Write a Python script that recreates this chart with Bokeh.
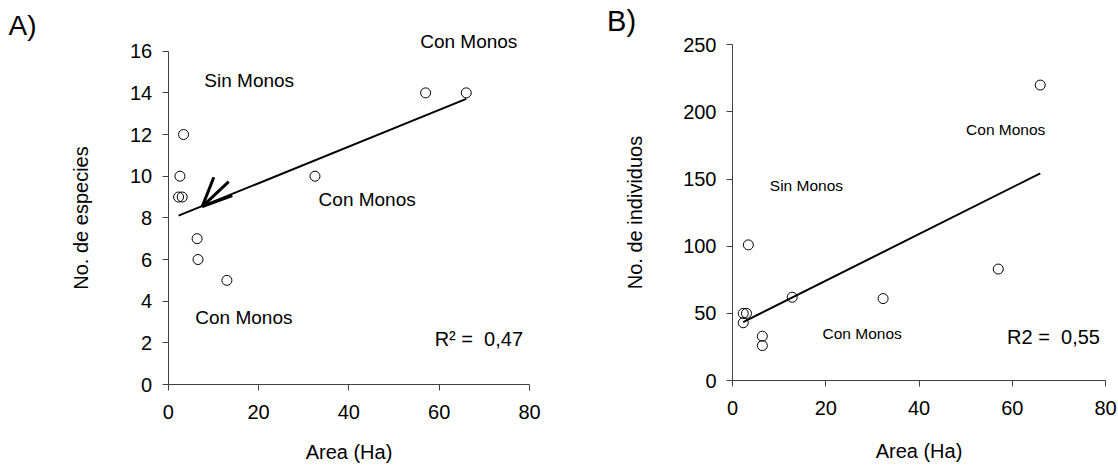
import numpy as np
from bokeh.plotting import figure
from bokeh.layouts import row
from bokeh.models import Range1d, FixedTicker, Label, Arrow
from bokeh.embed import file_html
from bokeh.resources import INLINE

# ---- data ----
area_a = [57.0, 66.0, 3.4, 2.6, 2.3, 3.1, 6.4, 6.6, 13.0, 32.5]
especies = [14, 14, 12, 10, 9, 9, 7, 6, 5, 10]

area_b = [66.0, 57.0, 32.3, 12.8, 3.4, 2.3, 3.0, 2.3, 6.4, 6.4]
individuos = [220, 83, 61, 62, 101, 50, 50, 43, 33, 26]

x_ticks = [0, 20, 40, 60, 80]
y_ticks_a = [0, 2, 4, 6, 8, 10, 12, 14, 16]
y_ticks_b = [0, 50, 100, 150, 200, 250]

FONT = "Liberation Sans"
AXC = "#404040"
H = 472


def make_fig(width, ox, px80, oy, pytop, ymax):
    """ox/oy: pixel position of the data origin inside the canvas (from left/top);
    px80: pixel of x=80; pytop: pixel of y=ymax."""
    ux = (px80 - ox) / 80.0
    uy = (oy - pytop) / float(ymax)
    xr = Range1d(-ox / ux, (width - ox) / ux)
    yr = Range1d(-(H - oy) / uy, oy / uy)
    p = figure(width=width, height=H, x_range=xr, y_range=yr,
               output_backend="svg", toolbar_location=None, min_border=0)
    p.title.visible = False
    p.outline_line_color = None
    p.grid.visible = False
    p.background_fill_color = "white"
    p.border_fill_color = "white"
    p.xaxis.fixed_location = 0
    p.yaxis.fixed_location = 0
    p.xaxis.bounds = (0, 80)
    p.yaxis.bounds = (0, ymax)
    return p, ux, uy


def style(p, yticks, xlab, ylab, ylab_standoff, xlab_standoff):
    p.xaxis.ticker = FixedTicker(ticks=x_ticks)
    p.yaxis.ticker = FixedTicker(ticks=yticks)
    for ax in (p.xaxis[0], p.yaxis[0]):
        ax.axis_line_color = AXC
        ax.axis_line_width = 1
        ax.major_tick_line_color = AXC
        ax.major_tick_out = 6
        ax.major_tick_in = 0
        ax.minor_tick_line_color = None
        ax.major_label_text_font = FONT
        ax.major_label_text_font_size = "20px"
        ax.major_label_text_color = "black"
        ax.axis_label_text_font = FONT
        ax.axis_label_text_font_size = "20px"
        ax.axis_label_text_font_style = "normal"
        ax.axis_label_text_color = "black"
    p.xaxis.axis_label = xlab
    p.yaxis.axis_label = ylab
    p.xaxis.major_label_standoff = 14
    p.yaxis.major_label_standoff = 10
    p.yaxis.axis_label_standoff = ylab_standoff
    p.xaxis.axis_label_standoff = xlab_standoff


def add_fit(p, xs, ys):
    xs = np.asarray(xs, float)
    ys = np.asarray(ys, float)
    m, b = np.polyfit(xs, ys, 1)
    lx = np.array([xs.min(), xs.max()])
    p.line(lx, m * lx + b, line_color="black", line_width=2)


def txt(p, x, y, s, size):
    p.add_layout(Label(x=x, y=y, text=s, text_font=FONT, text_font_size=size,
                       text_color="black", text_baseline="alphabetic",
                       y_offset=8))


# ---- panel A ----
OXA, OYA = 167.7, 384.0
pa, uxa, uya = make_fig(560, OXA, 529.0, OYA, 50.7, 16)
style(pa, y_ticks_a, "Area (Ha)", "No. de especies", 35, 19)
add_fit(pa, area_a, especies)
pa.scatter(area_a, especies, size=10, marker="circle", fill_color=None,
           line_color="black", line_width=1)
txt(pa, 55.8, 16.1, "Con Monos", "19px")
txt(pa, 8.0, 14.2, "Sin Monos", "19px")
txt(pa, 33.3, 8.5, "Con Monos", "19px")
txt(pa, 6.0, 2.85, "Con Monos", "19px")
txt(pa, 59.0, 1.8, "R\u00b2 = \u00a00,47", "20px")
txt(pa, (8.0 - OXA) / uxa, (OYA - 33.0) / uya, "A)", "28px")
for (xs, ys, xe, ye) in [(14.2, 9.07, 7.53, 8.54), (7.53, 8.54, 10.1, 9.95), (7.53, 8.54, 13.4, 9.74)]:
    pa.add_layout(Arrow(end=None, x_start=xs, y_start=ys, x_end=xe, y_end=ye,
                        line_color="black", line_width=3))

# ---- panel B ----
OXB, OYB = 172.0, 380.0
pb, uxb, uyb = make_fig(558, OXB, 545.0, OYB, 44.3, 250)
style(pb, y_ticks_b, "Area (Ha)", "No. de individuos", 34, 22)
add_fit(pb, area_b, individuos)
pb.scatter(area_b, individuos, size=10, marker="circle", fill_color=None,
           line_color="black", line_width=1)
txt(pb, 50.1, 181, "Con Monos", "15.5px")
txt(pb, 8.0, 139, "Sin Monos", "15.5px")
txt(pb, 19.3, 29.4, "Con Monos", "15.5px")
txt(pb, 58.9, 26.4, "R2 = \u00a00,55", "20px")
txt(pb, (46.6 - OXB) / uxb, (OYB - 28.0) / uyb, "B)", "29px")

layout = row(pa, pb)
open("out.html", "w").write(file_html(layout, INLINE))
